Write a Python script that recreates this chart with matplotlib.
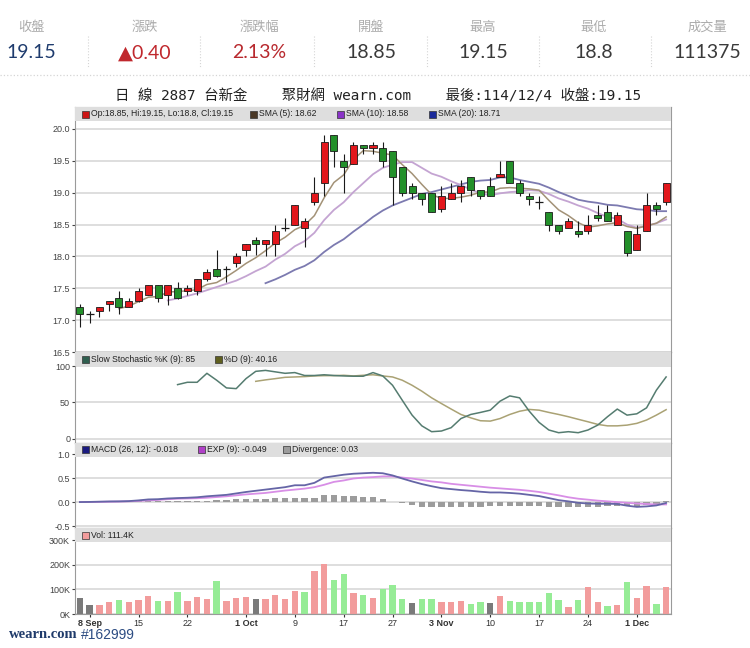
import numpy as np
import pandas as pd
import matplotlib
matplotlib.use('Agg')
import matplotlib.pyplot as plt
from matplotlib.patches import Rectangle
from matplotlib.lines import Line2D

# ---- data (2887 台新金, daily) ----
holidays = ['2025-09-29', '2025-10-06', '2025-10-10', '2025-10-24']
dates = pd.bdate_range('2025-09-05', '2025-12-04', freq='C', holidays=holidays)

opens = [17.2, 17.1, 17.15, 17.25, 17.35, 17.2, 17.3, 17.4, 17.55, 17.4,
         17.5, 17.45, 17.45, 17.65, 17.8, 17.8, 17.9, 18.1, 18.25, 18.2,
         18.2, 18.45, 18.5, 18.45, 18.85, 19.15, 19.9, 19.5, 19.45, 19.75,
         19.7, 19.7, 19.65, 19.4, 19.1, 19.0, 19.0, 18.75, 18.9, 19.0,
         19.25, 19.05, 19.1, 19.25, 19.5, 19.15, 18.95, 18.85, 18.7, 18.5,
         18.45, 18.4, 18.4, 18.65, 18.7, 18.5, 18.4, 18.1, 18.4, 18.8, 18.85]
highs = [17.25, 17.15, 17.2, 17.3, 17.45, 17.35, 17.5, 17.55, 17.55, 17.55,
         17.6, 17.55, 17.65, 17.8, 18.1, 17.85, 18.05, 18.2, 18.3, 18.25,
         18.5, 18.6, 18.8, 18.6, 19.25, 19.9, 19.9, 19.6, 19.8, 19.75,
         19.8, 19.8, 19.65, 19.4, 19.15, 19.0, 19.0, 19.1, 19.15, 19.2,
         19.25, 19.05, 19.25, 19.5, 19.5, 19.2, 19.0, 18.95, 18.7, 18.5,
         18.6, 18.55, 18.65, 18.8, 18.8, 18.7, 18.4, 18.5, 19.0, 18.85, 19.15]
lows = [16.9, 16.95, 17.05, 17.15, 17.1, 17.2, 17.28, 17.4, 17.28, 17.23,
        17.33, 17.4, 17.39, 17.62, 17.68, 17.6, 17.84, 18.0, 18.03, 18.0,
        18.0, 18.4, 18.5, 18.15, 18.8, 18.95, 19.4, 19.0, 19.45, 19.6,
        19.6, 19.4, 18.8, 18.95, 18.9, 18.8, 18.7, 18.7, 18.9, 18.85,
        18.95, 18.9, 18.95, 19.25, 19.15, 18.95, 18.8, 18.75, 18.4, 18.35,
        18.45, 18.3, 18.35, 18.55, 18.55, 18.5, 18.0, 18.1, 18.4, 18.65, 18.8]
closes = [17.1, 17.1, 17.2, 17.3, 17.2, 17.3, 17.45, 17.55, 17.35, 17.55,
          17.35, 17.5, 17.65, 17.75, 17.7, 17.8, 18.0, 18.2, 18.2, 18.25,
          18.4, 18.45, 18.8, 18.55, 19.0, 19.8, 19.65, 19.4, 19.75, 19.7,
          19.75, 19.5, 19.25, 19.0, 19.0, 18.9, 18.7, 18.95, 19.0, 19.1,
          19.05, 18.95, 18.95, 19.3, 19.15, 19.0, 18.9, 18.85, 18.5, 18.4,
          18.55, 18.35, 18.5, 18.6, 18.55, 18.65, 18.05, 18.35, 18.8, 18.75, 19.15]
volumes_k = [66, 38, 38, 48, 59, 48, 56, 73, 53, 53,
             89, 53, 70, 63, 134, 53, 67, 70, 62, 62,
             77, 60, 93, 88, 174, 204, 138, 164, 84, 77,
             67, 104, 120, 63, 45, 60, 63, 49, 49, 52,
             41, 47, 45, 73, 53, 49, 47, 47, 84, 56,
             29, 56, 110, 49, 32, 36, 130, 66, 116, 41, 111.4]

nan = np.nan
sma5 = [nan] * 4 + [17.18, 17.22, 17.29, 17.36, 17.37, 17.44,
                    17.45, 17.46, 17.48, 17.56, 17.59, 17.68, 17.78, 17.89, 17.98, 18.09,
                    18.21, 18.30, 18.42, 18.49, 18.64, 18.92, 19.16, 19.28, 19.52, 19.66,
                    19.65, 19.62, 19.59, 19.44, 19.30, 19.13, 18.97, 18.91, 18.91, 18.93,
                    18.96, 19.01, 19.01, 19.07, 19.08, 19.07, 19.06, 19.04, 18.88, 18.73,
                    18.64, 18.53, 18.46, 18.48, 18.51, 18.53, 18.47, 18.44, 18.48, 18.52, 18.62]
sma10 = [nan] * 9 + [17.31,
                     17.34, 17.38, 17.42, 17.47, 17.52, 17.57, 17.62, 17.69, 17.77, 17.84,
                     17.95, 18.04, 18.16, 18.24, 18.37, 18.57, 18.73, 18.85, 19.01, 19.15,
                     19.29, 19.39, 19.44, 19.48, 19.48, 19.39, 19.30, 19.25, 19.18, 19.12,
                     19.05, 18.99, 18.96, 18.99, 19.01, 19.02, 19.04, 19.03, 18.98, 18.91,
                     18.86, 18.80, 18.75, 18.68, 18.62, 18.59, 18.50, 18.45, 18.48, 18.52, 18.58]
sma20 = [nan] * 19 + [17.58,
                      17.64, 17.71, 17.79, 17.85, 17.94, 18.07, 18.18, 18.27, 18.39, 18.50,
                      18.62, 18.72, 18.80, 18.86, 18.92, 18.98, 19.01, 19.05, 19.09, 19.13,
                      19.17, 19.19, 19.20, 19.24, 19.24, 19.20, 19.17, 19.14, 19.08, 19.01,
                      18.95, 18.89, 18.86, 18.84, 18.81, 18.80, 18.77, 18.74, 18.73, 18.71, 18.71]

stoch_k = [nan] * 10 + [74.5, 77.7, 77.7, 90, 80.5, 70, 69, 82.7, 92.7, 94,
                        92, 90, 91, 87, 87, 88, 87, 86.4, 86, 86,
                        91, 86.4, 73.6, 53, 32.7, 18, 10, 10.9, 15.5, 28,
                        33.6, 36.4, 39.5, 51.8, 59, 56.4, 38, 22.7, 12.3, 8.6,
                        10, 8.6, 12.3, 19, 30.5, 41, 32.7, 34.5, 42.7, 66.8, 85]
stoch_d = [nan] * 18 + [79, 81,
                        82.7, 84.5, 85, 85.5, 86.4, 86.8, 86.8, 87.3, 86.4, 87.3,
                        88, 86.4, 85, 80.5, 73.6, 65.5, 56.4, 48.6, 41, 33.6,
                        29, 25, 24.5, 28, 33.6, 38, 40.5, 39.5, 36.4, 33.6,
                        30.5, 27, 23.6, 20, 18, 18, 19, 21.4, 26, 32.7, 40.16]

macd = [0.0, 0.003, 0.008, 0.013, 0.015, 0.02, 0.035, 0.055, 0.06, 0.075,
        0.083, 0.09, 0.10, 0.12, 0.135, 0.15, 0.18, 0.21, 0.235, 0.26,
        0.285, 0.31, 0.35, 0.35, 0.40, 0.51, 0.54, 0.57, 0.59, 0.60,
        0.61, 0.60, 0.555, 0.49, 0.43, 0.375, 0.33, 0.29, 0.27, 0.25,
        0.235, 0.215, 0.20, 0.20, 0.19, 0.175, 0.15, 0.125, 0.083, 0.04,
        0.015, -0.015, -0.03, -0.035, -0.035, -0.04, -0.075, -0.10, -0.09, -0.07, -0.018]
macd_exp = [0.0, 0.002, 0.004, 0.007, 0.01, 0.015, 0.025, 0.035, 0.045, 0.06,
            0.07, 0.075, 0.08, 0.09, 0.105, 0.12, 0.14, 0.16, 0.175, 0.19,
            0.215, 0.24, 0.26, 0.28, 0.31, 0.36, 0.42, 0.45, 0.49, 0.51,
            0.52, 0.535, 0.535, 0.51, 0.49, 0.46, 0.43, 0.41, 0.38, 0.36,
            0.34, 0.32, 0.30, 0.285, 0.27, 0.255, 0.235, 0.21, 0.175, 0.14,
            0.10, 0.07, 0.05, 0.03, 0.015, 0.0, -0.015, -0.03, -0.04, -0.05, -0.049]
divergence = [0.0, 0.005, 0.01, 0.01, 0.015, 0.02, 0.02, 0.02, 0.02, 0.02,
              0.015, 0.03, 0.03, 0.03, 0.04, 0.05, 0.06, 0.06, 0.06, 0.07,
              0.08, 0.08, 0.08, 0.08, 0.09, 0.14, 0.14, 0.12, 0.12, 0.11,
              0.10, 0.06, 0.01, -0.02, -0.06, -0.10, -0.11, -0.11, -0.11, -0.10,
              -0.10, -0.10, -0.09, -0.08, -0.08, -0.08, -0.08, -0.08, -0.10, -0.10,
              -0.10, -0.11, -0.11, -0.11, -0.09, -0.08, -0.09, -0.09, -0.06, -0.03, 0.03]

tick_dates = ['2025-09-08', '2025-09-15', '2025-09-22', '2025-10-01', '2025-10-09', '2025-10-17',
              '2025-10-27', '2025-11-03', '2025-11-10', '2025-11-17', '2025-11-24', '2025-12-01']
tick_labels = ['8 Sep', '15', '22', '1 Oct', '9', '17', '27', '3 Nov', '10', '17', '24', '1 Dec']

header_labels = ['收盤', '漲跌', '漲跌幅', '開盤', '最高', '最低', '成交量']
header_values = ['19.15', '▲0.40', '2.13%', '18.85', '19.15', '18.8', '111375']

# ---- layout helpers (pixel based, figure is 750x648) ----
W, H = 750, 648
LEFT, RIGHT = 75, 671
CJK = ['Noto Sans CJK TC', 'DejaVu Sans']
plt.rcParams['font.family'] = ['Liberation Sans', 'DejaVu Sans']


def box(top, bottom):
    return [LEFT / W, 1 - bottom / H, (RIGHT - LEFT) / W, (bottom - top) / H]


def fx(x):
    return x / W


def fy(y):
    return 1 - y / H


def style(ax, yticks, ylim):
    ax.set_xlim(-0.5, len(closes) - 0.5)
    ax.set_ylim(*ylim)
    ax.set_yticks(yticks)
    ax.grid(axis='y', color='#d8d8d8', lw=1.2)
    ax.set_axisbelow(True)
    for s in ax.spines.values():
        s.set_color('#9a9a9a')
        s.set_linewidth(0.8)
    ax.tick_params(axis='y', labelsize=6.5, length=2, pad=1.5, colors='#444444')
    ax.tick_params(axis='x', bottom=False, labelbottom=False)


def legend_bar(ax, top, bottom, items):
    hpx = bottom - top
    frac = 14 / hpx
    wpx = RIGHT - LEFT
    ax.add_patch(Rectangle((0, 1 - frac), 1, frac, transform=ax.transAxes,
                           facecolor='#dedede', edgecolor='none', zorder=6))
    for xpx, col, txt in items:
        xa = (xpx - LEFT) / wpx
        ax.add_patch(Rectangle((xa, 1 - 10.5 / hpx), 6.5 / wpx, 7 / hpx, transform=ax.transAxes,
                               facecolor=col, edgecolor='#333333', lw=0.5, zorder=7))
        ax.text(xa + 9 / wpx, 1 - 7 / hpx, txt, transform=ax.transAxes, fontsize=6.2,
                va='center', ha='left', color='#222222', zorder=7)


fig = plt.figure(figsize=(7.5, 6.48), dpi=100)
fig.patch.set_facecolor('white')

# ---- header block ----
col_x = [31, 145, 259, 371, 483, 594, 707]
val_colors = ['#1f3c6e', '#c0282d', '#b8292e', '#3a3a3a', '#3a3a3a', '#3a3a3a', '#3a3a3a']
for xc, lab, val, vc in zip(col_x, header_labels, header_values, val_colors):
    fig.text(fx(xc), fy(27), lab, ha='center', va='center', fontsize=9.5, color='#ababab', family=CJK)
    fig.text(fx(xc), fy(53), val, ha='center', va='center', fontsize=14, color=vc,
             family=['Lato', 'DejaVu Sans'])
for xs in [88, 200, 314, 427, 539, 651]:
    fig.add_artist(Line2D([fx(xs), fx(xs)], [fy(36), fy(68)], transform=fig.transFigure,
                          color='#d5d5d5', lw=0.8, ls=':'))
fig.add_artist(Line2D([0, 1], [fy(75), fy(75)], transform=fig.transFigure,
                      color='#d5d5d5', lw=0.9, ls=':'))

fig.text(fx(378), fy(96), '日 線 2887 台新金    聚財網 wearn.com    最後:114/12/4 收盤:19.15',
         ha='center', va='center', fontsize=10.4, color='#222222',
         family=['DejaVu Sans Mono', 'Noto Sans CJK TC'])

x = np.arange(len(closes))
o = np.array(opens)
c = np.array(closes)
up_col, dn_col = '#e3171c', '#23902a'

# ---- price panel ----
P_TOP, P_BOT = 107, 352
ax1 = fig.add_axes(box(P_TOP, P_BOT))
style(ax1, np.arange(16.5, 20.01, 0.5), (16.5, 20.345))
ax1.yaxis.set_major_formatter(matplotlib.ticker.FormatStrFormatter('%.1f'))
ax1.plot(x, sma20, color='#7c7ab0', lw=1.3, zorder=2)
ax1.plot(x, sma10, color='#c4a4d2', lw=1.3, zorder=2)
ax1.plot(x, sma5, color='#a39277', lw=1.1, zorder=2)
ax1.vlines(x, lows, highs, color='#1a1a1a', lw=0.8, zorder=3)
body = np.abs(c - o)
is_body = body > 0
body_cols = np.where(c > o, up_col, dn_col)
ax1.bar(x[is_body], body[is_body], bottom=np.minimum(o, c)[is_body], width=0.72,
        color=body_cols[is_body], edgecolor='#1a1a1a', linewidth=0.6, zorder=4)
ax1.hlines(c[~is_body], x[~is_body] - 0.4, x[~is_body] + 0.4, color='#1a1a1a', lw=0.9, zorder=4)
legend_bar(ax1, P_TOP, P_BOT, [
    (82, '#cc1414', 'Op:18.85, Hi:19.15, Lo:18.8, Cl:19.15'),
    (250, '#4a3826', 'SMA (5): %.2f' % sma5[-1]),
    (337, '#8a33c8', 'SMA (10): %.2f' % sma10[-1]),
    (429, '#1a2a9a', 'SMA (20): %.2f' % sma20[-1]),
])

# ---- slow stochastic ----
S_TOP, S_BOT = 352, 443
ax2 = fig.add_axes(box(S_TOP, S_BOT))
style(ax2, [0, 50, 100], (-5.5, 119.2))
ax2.plot(x, stoch_d, color='#aaa274', lw=1.1)
ax2.plot(x, stoch_k, color='#557c70', lw=1.1)
legend_bar(ax2, S_TOP, S_BOT, [
    (82, '#2f5f4f', 'Slow Stochastic %%K (9): %g' % stoch_k[-1]),
    (215, '#5f5f1f', '%%D (9): %.2f' % stoch_d[-1]),
])

# ---- MACD ----
M_TOP, M_BOT = 443, 528
ax3 = fig.add_axes(box(M_TOP, M_BOT))
style(ax3, [-0.5, 0.0, 0.5, 1.0], (-0.54, 1.23))
ax3.yaxis.set_major_formatter(matplotlib.ticker.FormatStrFormatter('%.1f'))
ax3.bar(x, divergence, width=0.65, color='#9c9c9c', zorder=2)
ax3.plot(x, macd_exp, color='#d88ee6', lw=1.3, zorder=3)
ax3.plot(x, macd, color='#6565a6', lw=1.3, zorder=3)
legend_bar(ax3, M_TOP, M_BOT, [
    (82, '#1a1a80', 'MACD (26, 12): %.3f' % macd[-1]),
    (198, '#b040c8', 'EXP (9): %.3f' % macd_exp[-1]),
    (283, '#9c9c9c', 'Divergence: %.2f' % divergence[-1]),
])

# ---- volume ----
V_TOP, V_BOT = 528, 614
ax4 = fig.add_axes(box(V_TOP, V_BOT))
style(ax4, [0, 100, 200, 300], (0, 351))
ax4.set_yticklabels(['0K', '100K', '200K', '300K'])
prev = np.r_[np.nan, c[:-1]]
vol_cols = np.where(c > prev, '#f29c9c', np.where(c < prev, '#96ec96', '#7a7a7a'))
ax4.bar(x, volumes_k, width=0.65, color=vol_cols, zorder=2)
legend_bar(ax4, V_TOP, V_BOT, [(82, '#f29c9c', 'Vol: %.1fK' % volumes_k[-1])])

tick_pos = dates.get_indexer(pd.to_datetime(tick_dates))
ax4.set_xticks(tick_pos)
ax4.set_xticklabels(tick_labels)
ax4.tick_params(axis='x', bottom=True, labelbottom=True, length=2, pad=1.5,
                labelsize=6.5, colors='#333333')
for lab in ax4.get_xticklabels():
    if ' ' in lab.get_text():
        lab.set_fontweight('bold')

# ---- footer ----
fig.text(fx(9), fy(635), 'wearn.com', ha='left', va='center', fontsize=10.5,
         fontweight='bold', color='#1f3a6a', family=['Liberation Serif', 'DejaVu Serif'])
fig.text(fx(81), fy(635), '#162999', ha='left', va='center', fontsize=10,
         color='#2c4c82', family=['Liberation Sans', 'DejaVu Sans'])

fig.savefig('out.png', dpi=100, facecolor='white')
